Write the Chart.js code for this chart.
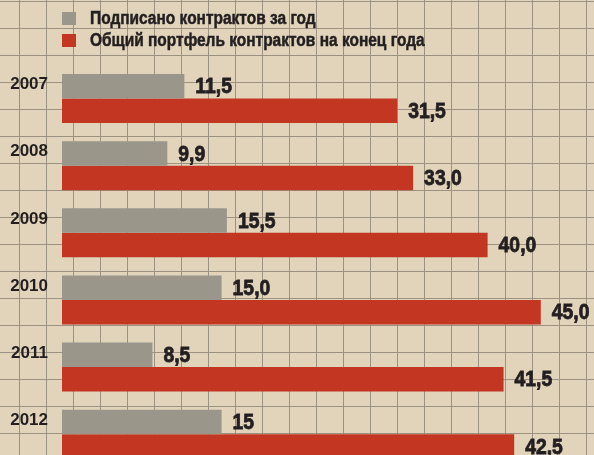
<!DOCTYPE html>
<html>
<head>
<meta charset="utf-8">
<script src="https://cdn.jsdelivr.net/npm/chart.js@4"></script>
<style>
  html, body {
    margin: 0;
    padding: 0;
    overflow: hidden;
  }
  body {
    width: 594px;
    height: 455px;
    background-color: #e1d4bb;
    background-image:
      linear-gradient(to right, #9c9282 0, #9c9282 1.4px, transparent 1.4px),
      linear-gradient(to bottom, #9c9282 0, #9c9282 1.4px, transparent 1.4px);
    background-size: 27px 27px;
    background-position: 19px 1px;
    font-family: "Liberation Sans", Arial, sans-serif;
  }
  #chart {
    position: absolute;
    left: 0;
    top: 0;
  }
  #legend {
    position: absolute;
    left: 62px;
    top: 7px;
    font-weight: bold;
    font-size: 18px;
    color: #231f20;
  }
  #legend .item {
    height: 22px;
    display: flex;
    align-items: center;
    white-space: nowrap;
  }
  #legend .box {
    width: 14px;
    height: 13px;
    margin-right: 14px;
    flex: none;
  }
  #legend .txt {
    display: inline-block;
    transform: scaleX(0.86);
    transform-origin: left center;
    -webkit-text-stroke: 0.5px #231f20;
  }
</style>
</head>
<body>
<canvas id="chart" width="594" height="492" style="width:594px;height:492px"></canvas>
<div id="legend"></div>
<script>
// Chart data
const years = ["2007", "2008", "2009", "2010", "2011", "2012"];
const signedLabel = "Подписано контрактов за год";
const portfolioLabel = "Общий портфель контрактов на конец года";
const signedValues = [11.5, 9.9, 15.5, 15.0, 8.5, 15];
const portfolioValues = [31.5, 33.0, 40.0, 45.0, 41.5, 42.5];
const signedText = ["11,5", "9,9", "15,5", "15,0", "8,5", "15"];
const portfolioText = ["31,5", "33,0", "40,0", "45,0", "41,5", "42,5"];

const FONT = "'Liberation Sans', Arial, sans-serif";
const GREY = "#9a978a";
const RED = "#c33622";
const INK = "#231f20";

// Draws the number right after the end of each bar (squeezed to look condensed)
const valueLabels = {
  id: "valueLabels",
  afterDatasetsDraw(chart) {
    const ctx = chart.ctx;
    const texts = [signedText, portfolioText];
    ctx.save();
    ctx.font = "bold 22px " + FONT;
    ctx.fillStyle = INK;
    ctx.strokeStyle = INK;
    ctx.lineWidth = 0.8;
    ctx.textAlign = "left";
    ctx.textBaseline = "middle";
    chart.data.datasets.forEach((ds, i) => {
      chart.getDatasetMeta(i).data.forEach((bar, j) => {
        ctx.save();
        ctx.translate(bar.x + 11, bar.y + 1);
        ctx.scale(0.88, 1);
        ctx.fillText(texts[i][j], 0, 0);
        ctx.strokeText(texts[i][j], 0, 0);
        ctx.restore();
      });
    });
    ctx.restore();
  }
};

const chart = new Chart(document.getElementById("chart"), {
  type: "bar",
  data: {
    labels: years,
    datasets: [
      {
        label: signedLabel,
        data: signedValues,
        backgroundColor: GREY,
        categoryPercentage: 0.73,
        barPercentage: 1
      },
      {
        label: portfolioLabel,
        data: portfolioValues,
        backgroundColor: RED,
        categoryPercentage: 0.73,
        barPercentage: 1
      }
    ]
  },
  options: {
    indexAxis: "y",
    responsive: false,
    animation: false,
    layout: {
      padding: { top: 65, bottom: 23, left: 0, right: 0 }
    },
    scales: {
      x: {
        display: false,
        min: 0,
        max: 50
      },
      y: {
        grid: { display: false, drawTicks: false },
        border: { display: false },
        afterFit: (scale) => { scale.width = 62; },
        ticks: {
          color: INK,
          padding: 14,
          labelOffset: -14,
          font: { family: FONT, size: 17, weight: "bold" }
        }
      }
    },
    plugins: {
      legend: { display: false },
      tooltip: { enabled: false }
    }
  },
  plugins: [valueLabels]
});

// HTML legend from the datasets
const legendEl = document.getElementById("legend");
chart.data.datasets.forEach((ds) => {
  const item = document.createElement("div");
  item.className = "item";
  const box = document.createElement("span");
  box.className = "box";
  box.style.background = ds.backgroundColor;
  const txt = document.createElement("span");
  txt.className = "txt";
  txt.textContent = ds.label;
  item.appendChild(box);
  item.appendChild(txt);
  legendEl.appendChild(item);
});
</script>
</body>
</html>
